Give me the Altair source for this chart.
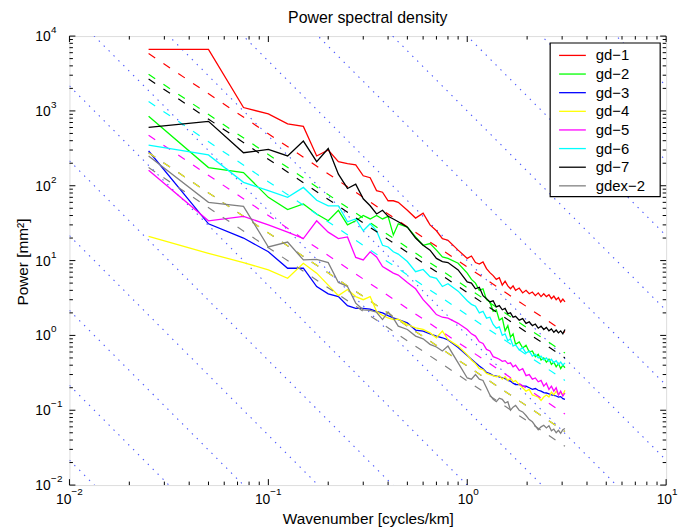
import altair as alt
import pandas as pd

FONT = "Liberation Sans"
W, H = 602, 453

# ---------------- data ----------------
wavenumber = [0.025, 0.05, 0.075, 0.1, 0.125, 0.15, 0.175, 0.2, 0.225, 0.25,
              0.275, 0.3, 0.325, 0.35, 0.375, 0.4, 0.425, 0.45,
              0.5, 0.55, 0.6, 0.65, 0.7, 0.75, 0.8, 0.9,
              1.0, 1.05, 1.1, 1.15, 1.2, 1.25, 1.3, 1.35, 1.4, 1.45,
              1.5, 1.55, 1.6, 1.65, 1.7, 1.75, 1.825, 1.9, 1.975, 2.05,
              2.125, 2.2, 2.275, 2.35, 2.425, 2.5, 2.575, 2.65, 2.725, 2.8,
              2.875, 2.95, 3.025, 3.1]

series_names = ["gd-1", "gd-2", "gd-3", "gd-4", "gd-5", "gd-6", "gd-7", "gdex-2"]
series_colors = ["#ff0000", "#00ff00", "#0000ff", "#ffff00", "#ff00ff", "#00ffff", "#000000", "#808080"]

gd1 = [6650, 6650, 1110, 910, 670, 620, 250, 300, 210, 198,
       190, 136, 128, 86, 82, 63, 63, 60,
       47, 37, 43, 30, 25, 19.6, 18.7, 13.8,
       10.7, 11.5, 9.4, 9.0, 9.6, 7.8, 6.9, 6.3, 5.6, 5.9,
       4.7, 5.3, 4.6, 4.2, 4.6, 4.0, 4.3, 3.7, 4.0, 3.6,
       3.8, 3.4, 3.7, 3.3, 3.6, 3.3, 3.5, 3.1, 3.35, 3.0,
       3.2, 2.8, 3.05, 2.8]
gd2 = [846, 175, 150, 70, 48, 57, 42, 34, 47, 30,
       34, 40, 36, 40, 36, 39, 22, 31,
       28, 20.7, 16, 16.9, 13.8, 11.2, 10.7, 9.2,
       6.8, 5.6, 5.0, 4.0, 4.2, 3.0, 2.8, 2.1, 2.2, 1.6,
       1.7, 1.15, 1.35, 0.95, 1.05, 0.76, 0.82, 0.68, 0.74, 0.6,
       0.62, 0.52, 0.56, 0.47, 0.5, 0.44, 0.48, 0.41, 0.44, 0.38,
       0.42, 0.36, 0.4, 0.37]
gd3 = [291, 31, 20, 13.1, 7.9, 7.9, 4.5, 3.6, 3.3, 2.5,
       2.3, 2.3, 2.25, 2.1, 2.0, 1.84, 1.72, 1.63,
       1.47, 1.18, 1.14, 1.05, 0.98, 0.93, 0.87, 0.69,
       0.54, 0.48, 0.43, 0.39, 0.36, 0.32, 0.31, 0.29, 0.285, 0.28,
       0.27, 0.265, 0.25, 0.245, 0.23, 0.22, 0.22, 0.21, 0.21, 0.2,
       0.19, 0.195, 0.185, 0.18, 0.172, 0.17, 0.165, 0.16, 0.158, 0.155,
       0.15, 0.152, 0.143, 0.14]
gd4 = [21, 12.5, 9.4, 7.5, 5.8, 9.2, 6.8, 4.7, 3.4, 4.1,
       3.3, 3.0, 3.3, 2.1, 1.85, 1.71, 1.63, 1.65,
       1.4, 1.26, 1.2, 1.08, 0.93, 1.14, 0.88, 0.72,
       0.55, 0.47, 0.42, 0.36, 0.35, 0.31, 0.3, 0.29, 0.28, 0.29,
       0.26, 0.28, 0.25, 0.27, 0.24, 0.25, 0.22, 0.2, 0.18, 0.19,
       0.16, 0.155, 0.15, 0.135, 0.15, 0.16, 0.15, 0.175, 0.16, 0.18,
       0.16, 0.175, 0.16, 0.185]
gd5 = [161, 34, 39, 30, 24, 19.7, 34, 24, 19.7, 20.7,
       11, 10.2, 13.1, 11.2, 8.3, 7.5, 6.8, 6.4,
       5.1, 4.2, 3.0, 2.4, 1.9, 1.75, 1.7, 1.45,
       1.2, 1.05, 0.98, 0.82, 0.78, 0.65, 0.62, 0.52, 0.5, 0.48,
       0.45, 0.46, 0.42, 0.43, 0.38, 0.4, 0.34, 0.36, 0.29, 0.3,
       0.26, 0.27, 0.24, 0.25, 0.21, 0.23, 0.19, 0.21, 0.18, 0.2,
       0.16, 0.18, 0.155, 0.17]
gd6 = [349, 258, 111, 86, 70, 95, 64, 54, 54, 33,
       36, 25, 31, 25, 16, 15.2, 13.1, 12.2,
       9.7, 7.1, 7.6, 6.1, 5.8, 4.5, 4.9, 3.9,
       2.9, 2.6, 2.45, 2.0, 2.1, 1.7, 1.75, 1.4, 1.25, 1.3,
       1.0, 1.05, 0.85, 0.9, 0.72, 0.75, 0.64, 0.68, 0.58, 0.62,
       0.53, 0.56, 0.5, 0.53, 0.47, 0.5, 0.45, 0.48, 0.43, 0.46,
       0.41, 0.44, 0.4, 0.43]
gd7 = [604, 726, 276, 306, 250, 395, 210, 315, 143, 92,
       105, 67, 54, 42, 47, 39, 36, 33,
       28, 20, 16, 13.8, 10.7, 9.7, 9.4, 7.5,
       5.2, 5.0, 4.2, 4.4, 3.4, 3.1, 2.8, 2.9, 2.4, 2.5,
       2.2, 2.3, 1.95, 2.0, 1.75, 1.8, 1.6, 1.68, 1.45, 1.52,
       1.35, 1.42, 1.25, 1.33, 1.2, 1.28, 1.15, 1.22, 1.1, 1.18,
       1.08, 1.15, 1.05, 1.2]
gdex2 = [250, 60, 53, 15.2, 17.7, 10.2, 10.4, 9.4, 5.1, 4.5,
         2.7, 2.2, 2.16, 2.04, 1.63, 2.06, 1.7, 1.33,
         1.2, 0.98, 0.9, 0.76, 0.7, 0.62, 0.72, 0.43,
         0.27, 0.26, 0.3, 0.26, 0.25, 0.2, 0.16, 0.14, 0.13, 0.145,
         0.14, 0.125, 0.13, 0.1, 0.11, 0.116, 0.1, 0.095, 0.085, 0.075,
         0.07, 0.062, 0.055, 0.06, 0.063, 0.058, 0.062, 0.053, 0.056, 0.05,
         0.054, 0.049, 0.055, 0.057]
spectra = [gd1, gd2, gd3, gd4, gd5, gd6, gd7, gdex2]
for s in spectra:
    assert len(s) == len(wavenumber)

# power-law fits (dashed): value at first and last wavenumber
fit_x = [0.025, 3.1]
fit_start = [5830, 3080, 276, 276, 473, 1336, 2670, 175]
fit_end = [1.1, 0.58, 0.052, 0.052, 0.089, 0.25, 0.5, 0.033]

# reference slopes (dotted): P = 10^m * k^(-8/3)
ref_exponent = -8.0 / 3.0
ref_levels = list(range(-7, 7))

x_domain = [0.01, 10]
y_domain = [0.01, 10000]
x_decades = [-2, -1, 0, 1]
y_decades = [-2, -1, 0, 1, 2, 3, 4]

chart_title = "Power spectral density"

# ---------------- tables ----------------
rows = []
for name, vals in zip(series_names, spectra):
    for k, p in zip(wavenumber, vals):
        rows.append({"series": name, "k": k, "P": p})
df_spec = pd.DataFrame(rows)

fit_rows = []
for name, a, b in zip(series_names, fit_start, fit_end):
    fit_rows.append({"series": name, "k": fit_x[0], "P": a})
    fit_rows.append({"series": name, "k": fit_x[1], "P": b})
df_fit = pd.DataFrame(fit_rows)

ref_rows = []
for m in ref_levels:
    for k in x_domain:
        ref_rows.append({"m": m, "k": k, "P": 10.0 ** m * k ** ref_exponent})
df_ref = pd.DataFrame(ref_rows)

x_major = [10.0 ** d for d in x_decades]
x_minor = [j * 10.0 ** d for d in x_decades[:-1] for j in range(2, 10)]
y_major = [10.0 ** d for d in y_decades]
y_minor = [j * 10.0 ** d for d in y_decades[:-1] for j in range(2, 10)]

# ---------------- encodings ----------------
xscale = alt.Scale(type="log", domain=x_domain, nice=False)
yscale = alt.Scale(type="log", domain=y_domain, nice=False)

x_axis = alt.Axis(title="Wavenumber [cycles/km]", labels=False, ticks=False, domain=False,
                  grid=False, titleFont=FONT, titleFontSize=15.5, titleFontWeight="normal",
                  titleColor="black", titleBaseline="alphabetic", titleY=39, titleX=W / 2,
                  titleAlign="center")
y_axis = alt.Axis(title="Power [mm²]", labels=False, ticks=False, domain=False,
                  grid=False, titleFont=FONT, titleFontSize=15.5, titleFontWeight="normal",
                  titleColor="black", titleBaseline="alphabetic", titleAngle=270,
                  titleX=-42, titleY=H / 2 + 1, titleAlign="center")

color = alt.Color("series:N", scale=alt.Scale(domain=series_names, range=series_colors), legend=None)


def X(field):
    return alt.X(field, scale=xscale, axis=x_axis)


def Y(field):
    return alt.Y(field, scale=yscale, axis=y_axis)


ref = alt.Chart(df_ref).mark_line(clip=True, color="#2a3aff", strokeWidth=1.1,
                                  strokeDash=[1.4, 5.6], opacity=0.85).encode(
    x=X("k:Q"), y=Y("P:Q"), detail="m:N")

layers = [ref]
# one layer per series so that the drawing order follows the legend order
for name in series_names:
    layers.append(
        alt.Chart(df_spec).transform_filter(alt.datum.series == name)
        .mark_line(clip=True, strokeWidth=1.3)
        .encode(x=X("k:Q"), y=Y("P:Q"), color=color)
    )
    layers.append(
        alt.Chart(df_fit).transform_filter(alt.datum.series == name)
        .mark_line(clip=True, strokeWidth=1.2, strokeDash=[8, 10])
        .encode(x=X("k:Q"), y=Y("P:Q"), color=color)
    )

# ticks (inward, all four sides)
for vals, ln in ((x_major, 6), (x_minor, 3.5)):
    base = alt.Chart(pd.DataFrame({"v": vals})).mark_rule(color="black", strokeWidth=1)
    layers.append(base.encode(x=X("v:Q"), y=alt.value(H), y2=alt.value(H - ln)))
    layers.append(base.encode(x=X("v:Q"), y=alt.value(0), y2=alt.value(ln)))
for vals, ln in ((y_major, 6), (y_minor, 3.5)):
    base = alt.Chart(pd.DataFrame({"v": vals})).mark_rule(color="black", strokeWidth=1)
    layers.append(base.encode(y=Y("v:Q"), x=alt.value(0), x2=alt.value(ln)))
    layers.append(base.encode(y=Y("v:Q"), x=alt.value(W), x2=alt.value(W - ln)))

# tick labels: "10" with superscript exponent
xl = alt.Chart(pd.DataFrame({"e": x_decades})).transform_calculate(
    v="pow(10, datum.e)", lab="replace(toString(datum.e), '-', '\u2212')")
for cond, shift in (("datum.e < 0", 2), ("datum.e >= 0", 6)):
    part = xl.transform_filter(cond)
    layers.append(part.mark_text(text="10", align="right", baseline="middle", dx=shift,
                                 font=FONT, fontSize=14, color="black").encode(
        x=X("v:Q"), y=alt.value(H + 15.5)))
    layers.append(part.mark_text(align="left", baseline="middle", dx=shift,
                                 font=FONT, fontSize=10, color="black").encode(
        x=X("v:Q"), y=alt.value(H + 7), text="lab:N"))

yl = alt.Chart(pd.DataFrame({"e": y_decades})).transform_calculate(
    v="pow(10, datum.e)", lab="replace(toString(datum.e), '-', '\u2212')")
layers.append(yl.mark_text(text="10", align="right", baseline="middle", dy=1,
                           font=FONT, fontSize=14, color="black").encode(
    y=Y("v:Q"), x=alt.value(-19)))
layers.append(yl.mark_text(align="left", baseline="middle", dy=-6,
                           font=FONT, fontSize=10, color="black").encode(
    y=Y("v:Q"), x=alt.value(-18.5), text="lab:N"))

# title
layers.append(alt.Chart(pd.DataFrame({"t": [chart_title]})).mark_text(
    align="center", baseline="alphabetic", font=FONT, fontSize=16, color="black").encode(
    x=alt.value(W / 2), y=alt.value(-13), text="t:N"))

# legend box
box = alt.Chart(pd.DataFrame({"a": [0]})).mark_rect(fill="white", stroke="black", strokeWidth=1.2).encode(
    x=alt.value(485), x2=alt.value(596), y=alt.value(7), y2=alt.value(162))
leg = alt.Chart(pd.DataFrame({"series": series_names, "i": list(range(len(series_names)))})).transform_calculate(
    py="19.5 + 18.8 * datum.i", lab="replace(datum.series, '-', '\u2212')")
samples = leg.mark_rule(strokeWidth=1.3).encode(
    x=alt.value(494), x2=alt.value(521), y=alt.Y("py:Q", scale=None, axis=None), color=color)
texts = leg.mark_text(align="left", baseline="middle", font=FONT, fontSize=15, color="black").encode(
    x=alt.value(531), y=alt.Y("py:Q", scale=None, axis=None), text="lab:N")
layers += [box, samples, texts]

chart = alt.layer(*layers).properties(
    width=W, height=H,
    padding={"left": 62, "top": 26, "right": 15, "bottom": 44},
    autosize=alt.AutoSizeParams(type="none"),
).configure_view(stroke="black", strokeWidth=1.2).configure(font=FONT, background="white")

chart.save("out.html", embed_options={"renderer": "svg", "actions": False})
